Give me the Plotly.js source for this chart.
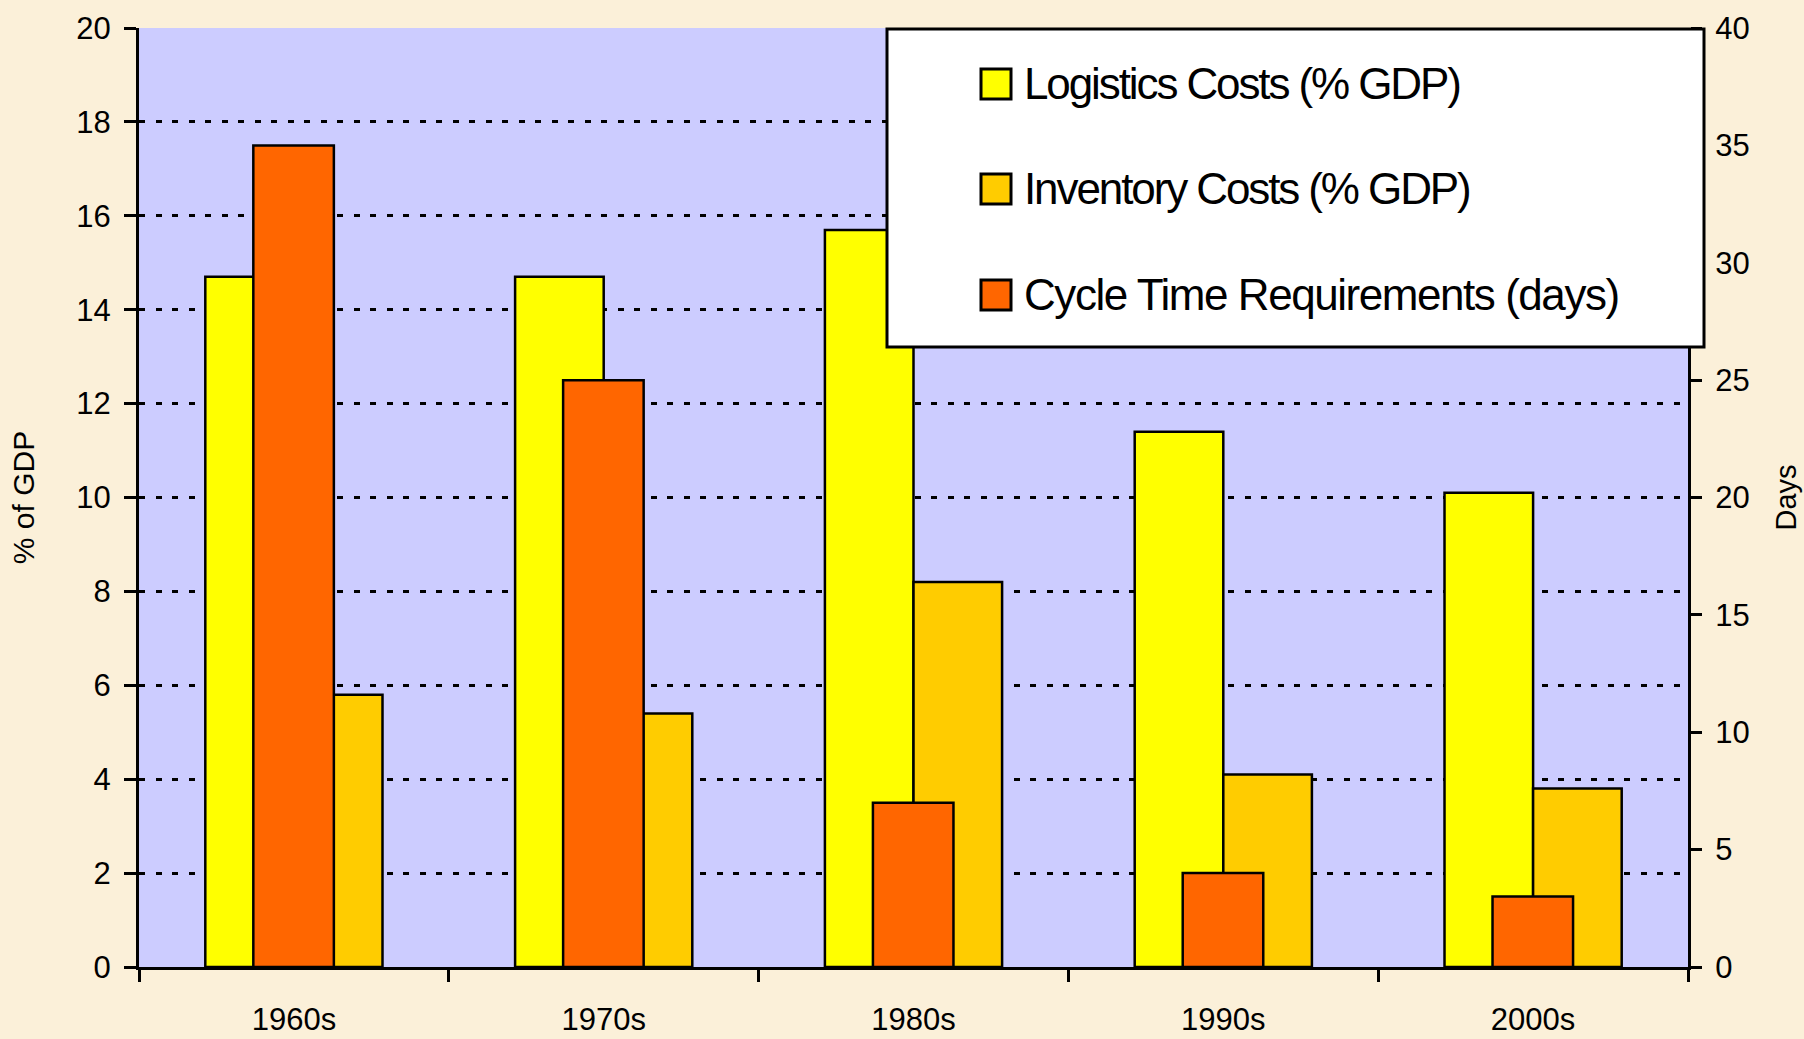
<!DOCTYPE html>
<html><head><meta charset="utf-8">
<script src="https://cdn.plot.ly/plotly-3.0.1.min.js"></script>
<style>
html,body{margin:0;padding:0;background:#FBF0D9;}
#chart{width:1804px;height:1039px;}
g.annotation[data-index="0"] text, g.annotation[data-index="1"] text{letter-spacing:-2.1px;}
g.annotation[data-index="2"] text{letter-spacing:-1.45px;}
</style>
</head><body><div id="chart"></div>
<script>
// ---- data ----
const decades = ['1960s', '1970s', '1980s', '1990s', '2000s'];
const logisticsCosts = [14.7, 14.7, 15.7, 11.4, 10.1];   // % of GDP
const inventoryCosts = [5.8, 5.4, 8.2, 4.1, 3.8];        // % of GDP
const cycleTimeDays = [35, 25, 7, 4, 3];                 // days
const seriesNames = ['Logistics Costs (% GDP)', 'Inventory Costs (% GDP)', 'Cycle Time Requirements (days)'];
const seriesColors = ['#FFFF00', '#FFCC00', '#FF6600'];
const leftTicks = [0, 2, 4, 6, 8, 10, 12, 14, 16, 18, 20];
const rightTicks = [0, 5, 10, 15, 20, 25, 30, 35, 40];

// ---- layout geometry (pixels) ----
const W = 1804, H = 1039;
const M = {l: 139, r: 116, t: 28, b: 72};
const PW = W - M.l - M.r, PH = H - M.t - M.b;
const px = x => (x - M.l) / PW;
const py = y => (H - M.b - y) / PH;

const font = 'Liberation Sans, Arial, sans-serif';
const outline = {color: '#000000', width: 2.5};

const traces = [
  {type: 'bar', x: decades, y: logisticsCosts, name: seriesNames[0], xaxis: 'x', yaxis: 'y',
   width: 0.286, offset: -0.286, marker: {color: seriesColors[0], line: outline}, showlegend: false},
  {type: 'bar', x: decades, y: inventoryCosts, name: seriesNames[1], xaxis: 'x', yaxis: 'y',
   width: 0.286, offset: 0, marker: {color: seriesColors[1], line: outline}, showlegend: false},
  {type: 'bar', x: decades, y: cycleTimeDays, name: seriesNames[2], xaxis: 'x', yaxis: 'y2',
   width: 0.26, offset: -0.131, marker: {color: seriesColors[2], line: outline}, showlegend: false}
];

// manual legend
const shapes = [{
  type: 'rect', xref: 'paper', yref: 'paper',
  x0: px(887), x1: px(1704), y0: py(347), y1: py(29),
  fillcolor: '#FFFFFF', line: {color: '#000000', width: 3}
}];
const annotations = [];
const itemY = [84, 189, 295];
seriesNames.forEach((n, i) => {
  shapes.push({type: 'rect', xref: 'paper', yref: 'paper',
    x0: px(981), x1: px(1011), y0: py(itemY[i] + 15), y1: py(itemY[i] - 15),
    fillcolor: seriesColors[i], line: {color: '#000000', width: 3}});
  annotations.push({xref: 'paper', yref: 'paper', x: px(1022), y: py(itemY[i] - 1),
    xanchor: 'left', yanchor: 'middle', align: 'left', showarrow: false, text: n,
    font: {family: font, size: 44, color: '#000000'}});
});

const layout = {
  width: W, height: H,
  margin: M,
  paper_bgcolor: '#FBF0D9',
  plot_bgcolor: '#CCCCFF',
  barmode: 'overlay',
  showlegend: false,
  font: {family: font, color: '#000000', size: 31},
  xaxis: {
    type: 'category', range: [-0.5, 4.5], tickson: 'boundaries',
    ticks: 'outside', ticklen: 12, tickwidth: 3, tickcolor: '#000000',
    showline: true, linecolor: '#000000', linewidth: 3,
    showgrid: false, zeroline: false,
    tickfont: {family: font, size: 31, color: '#000000'},
    ticklabelstandoff: 23
  },
  yaxis: {
    range: [0, 20], tickvals: leftTicks, ticktext: leftTicks.map(String),
    ticks: 'outside', ticklen: 12, tickwidth: 3, tickcolor: '#000000',
    showline: true, linecolor: '#000000', linewidth: 3,
    showgrid: true, gridcolor: '#000000', gridwidth: 3, griddash: '6px,10.5px',
    zeroline: false,
    tickfont: {family: font, size: 31, color: '#000000'},
    ticklabelstandoff: 7,
    title: {text: '% of GDP', font: {family: font, size: 30, color: '#000000'}, standoff: 33}
  },
  yaxis2: {
    overlaying: 'y', side: 'right', range: [0, 40],
    tickvals: rightTicks, ticktext: rightTicks.map(String),
    ticks: 'outside', ticklen: 11, tickwidth: 3, tickcolor: '#000000',
    showline: true, linecolor: '#000000', linewidth: 3,
    showgrid: false, zeroline: false,
    tickfont: {family: font, size: 31, color: '#000000'},
    ticklabelstandoff: 7,
    title: {text: 'Days', font: {family: font, size: 29, color: '#000000'}, standoff: 28}
  },
  yaxis3: {
    overlaying: 'y', side: 'right', range: [0, 40],
    tickvals: rightTicks, ticks: 'inside', ticklen: 11, tickwidth: 3, tickcolor: '#000000',
    showticklabels: false, showline: false, showgrid: false, zeroline: false
  },
  shapes: shapes,
  annotations: annotations
};

Plotly.newPlot('chart', traces, layout, {displayModeBar: false, staticPlot: true});
</script>
</body></html>
